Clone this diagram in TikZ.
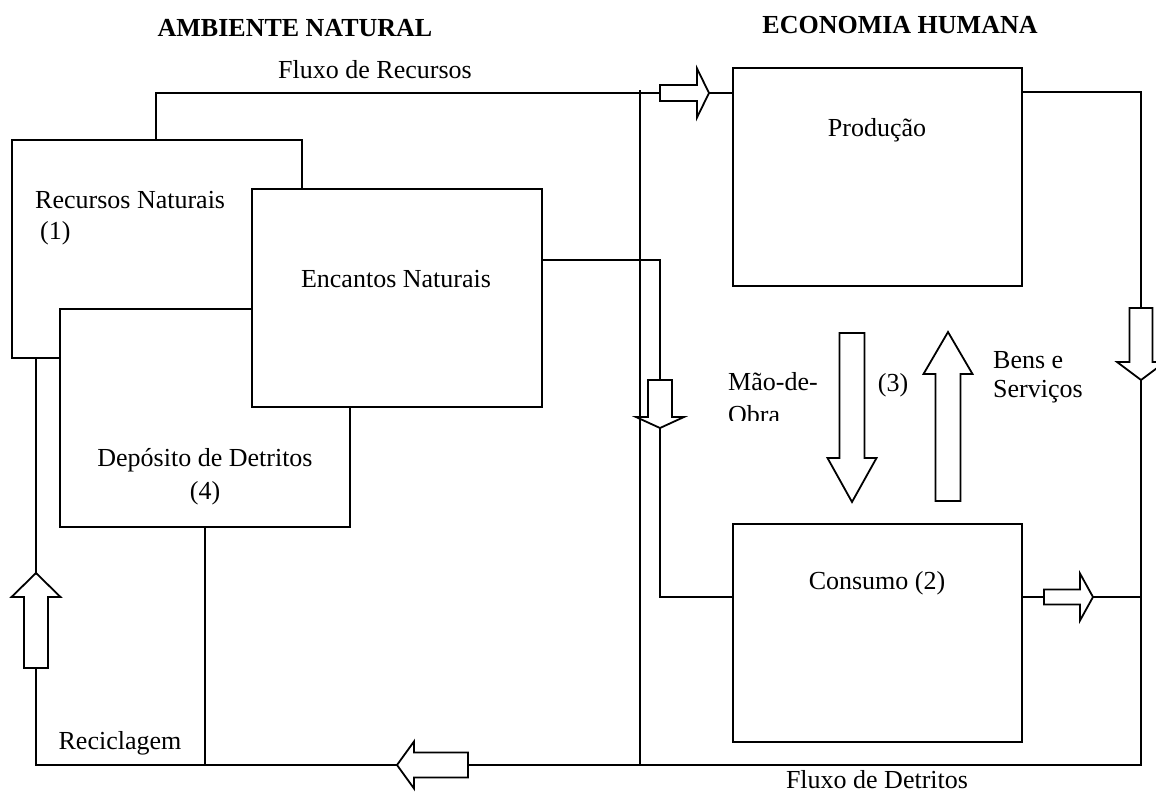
\documentclass[tikz,border=0pt]{standalone}
\usepackage{fontspec}
\setmainfont{Liberation Serif}
\begin{document}
\begin{tikzpicture}[x=1pt,y=-1pt,
  box/.style={draw, fill=white, line width=1.8pt, inner sep=0pt, outer sep=0pt, anchor=north west},
  txt/.style={font=\fontsize{26}{30}\selectfont, inner sep=0pt},
  ttl/.style={font=\fontsize{26}{30}\selectfont\bfseries, inner sep=0pt},
  conn/.style={line width=1.8pt},
  pics/fat/.style args={#1/#2/#3/#4}{code={
    \draw[line width=1.8pt, fill=white, line join=miter]
      (0,-#2) -- (#4,-#2) -- (#4,-#3) -- (#1,0) -- (#4,#3) -- (#4,#2) -- (0,#2) -- cycle;
    \coordinate (-tail) at (0,0);
    \coordinate (-tip) at (#1,0);
  }}]
\useasboundingbox (0,0) rectangle (1156,792);
\clip (0,0) rectangle (1156,792);

% titles
\node[ttl] (tamb) at (295,28) {AMBIENTE NATURAL};
\node[ttl] (teco) at (900,25) {ECONOMIA HUMANA};
\node[txt] (tfr) at (375,70) {Fluxo de Recursos};

% boxes
\node[box, minimum width=290pt, minimum height=218pt] (rec) at (12,140) {};
\node[box, minimum width=290pt, minimum height=218pt] (dep) at (60,309) {};
\node[box, minimum width=290pt, minimum height=218pt] (enc) at (252,189) {};
\node[box, minimum width=289pt, minimum height=218pt] (prod) at (733,68) {};
\node[box, minimum width=289pt, minimum height=218pt] (cons) at (733,524) {};

% box texts
\node[txt, anchor=west] (trec) at (35,200) {Recursos Naturais};
\node[txt, anchor=west] (trec1) at (40,233) {(1)};
\node[txt] (tenc) at (396,279) {Encantos Naturais};
\node[txt] (tdep) at (205,460) {Depósito de Detritos};
\node[txt] (tdep4) at (205,493) {(4)};
\node[txt] (tprod) at (877,130) {Produção};
\node[txt] (tcons) at (877,583) {Consumo (2)};

% key coordinates
\coordinate (bl) at (36,765);
\coordinate (ctop) at (640,90);

% fat arrows
\pic (a1) at (660,93) {fat=49/8/24.5/37};
\pic[rotate=-90] (a2) at (1141,308) {fat=72/11.5/24/54};
\pic[rotate=-90] (a3) at (660,380) {fat=48/12/24/37};
\pic[rotate=-90] (a4) at (852,333) {fat=169/12.5/24.5/125};
\pic[rotate=90] (a5) at (948,501) {fat=169/12.5/24.5/127};
\pic (a6) at (1044,597) {fat=49/7.5/23.5/36};
\pic[rotate=180] (a7) at (468,765) {fat=71/12.5/23.5/54};
\pic[rotate=90] (a8) at (36,668) {fat=95/12/24.5/71};

% connectors
\draw[conn] ([xshift=144pt]rec.north west) |- (a1-tail);
\draw[conn] (a1-tip) -- (a1-tip -| prod.west);
\draw[conn] ([yshift=-24pt]prod.north east) -| (a2-tail);
\draw[conn] (a2-tip) -- (a2-tip |- bl) -- (a7-tail);
\draw[conn] (a7-tip) -- (bl) -- (a8-tail);
\draw[conn] (a8-tip) -- (a8-tip |- rec.south);
\draw[conn] ([yshift=-71pt]enc.north east) -| (a3-tail);
\draw[conn] (a3-tip) |- ([yshift=-73pt]cons.north west);
\draw[conn] ([yshift=-73pt]cons.north east) -- (a6-tail);
\draw[conn] (a6-tip) -- (a6-tip -| a2-tip);
\draw[conn] (dep.south) -- (dep.south |- bl);
\draw[conn] (ctop) -- (ctop |- bl);

% flow labels
\node[txt, anchor=base west] (tmao) at (728,390) {Mão-de-};
\begin{scope}
  \clip (700,395) rectangle (835,420);
  \node[txt, anchor=base west] (tobra) at (728,423) {Obra};
\end{scope}
\node[txt] (t3) at (893,385) {(3)};
\node[txt, anchor=west] (tbens) at (993,360) {Bens e};
\node[txt, anchor=west] (tserv) at (993,392) {Serviços};
\node[txt] (trecic) at (120,743) {Reciclagem};
\node[txt, anchor=base] (tfd) at (877,788) {Fluxo de Detritos};
\end{tikzpicture}
\end{document}
